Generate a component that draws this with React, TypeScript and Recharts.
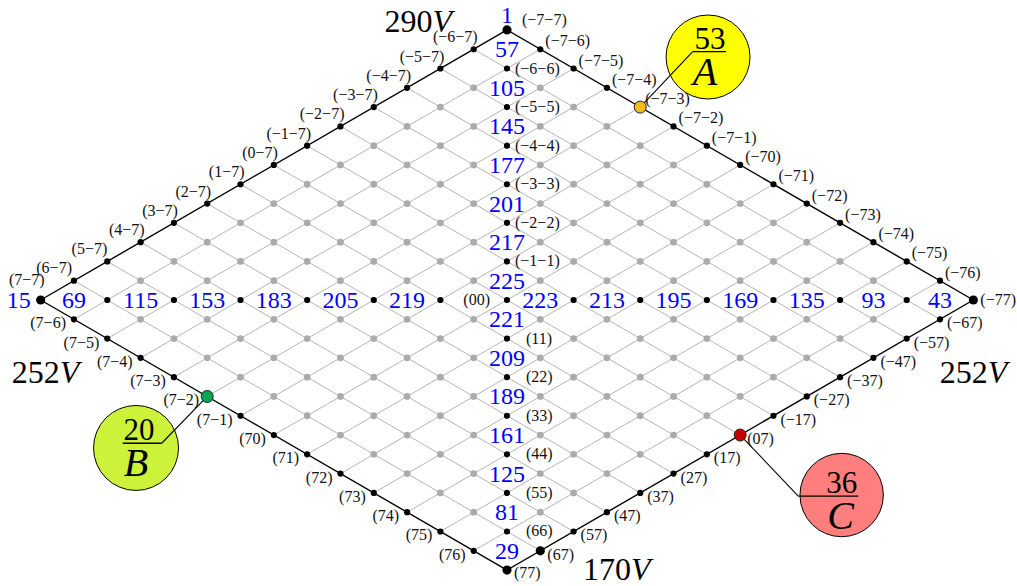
import React from "react";
import { Scatter, ScatterChart, XAxis, YAxis } from "recharts";

// lattice index along each side of the rhombus, -7 .. 7
const steps = [-7, -6, -5, -4, -3, -2, -1, 0, 1, 2, 3, 4, 5, 6, 7];

// blue cell values down the vertical diagonal, top to bottom
const verticalValues = [57, 105, 145, 177, 201, 217, 225, 221, 209, 189, 161, 125, 81, 29];
// blue cell values along the horizontal diagonal, left to right (the (00) label sits in the empty cell)
const horizontalValues = [69, 115, 153, 183, 205, 219, null, 223, 213, 195, 169, 135, 93, 43];
// values written just outside the top and left corners
const topCornerValue = 1;
const leftCornerValue = 15;

// voltages written at the four corners
const cornerVoltages = [
  { corner: "top", value: 290 },
  { corner: "left", value: 252 },
  { corner: "right", value: 252 },
  { corner: "bottom", value: 170 },
];

// highlighted lattice nodes
const callouts = [
  { i: -7, j: -3, value: 53, letter: "A" },
  { i: 7, j: -2, value: 20, letter: "B" },
  { i: 0, j: 7, value: 36, letter: "C" },
];

const W = 1017;
const H = 586;
const FONT = "'Liberation Serif', 'Times New Roman', serif";
const X_DOMAIN = [-15.221, 15.311];
const Y_DOMAIN = [-14.826, 15.552];

const toPlot = (i: number, j: number) => ({ x: j - i, y: -(i + j) });
const fmt = (n: number) => (n < 0 ? "\u2212" + Math.abs(n) : String(n));
const nodeName = (i: number, j: number) => `(${fmt(i)}${fmt(j)})`;

const cornerNode: Record<string, [number, number]> = {
  top: [-7, -7],
  left: [7, -7],
  right: [-7, 7],
  bottom: [7, 7],
};

const gridLines = steps.flatMap((k) => [
  { key: `i${k}`, border: Math.abs(k) === 7, pts: [toPlot(k, -7), toPlot(k, 7)] },
  { key: `j${k}`, border: Math.abs(k) === 7, pts: [toPlot(-7, k), toPlot(7, k)] },
]);

const lattice = steps.flatMap((i) =>
  steps.map((j) => {
    const corner = Math.abs(i) === 7 && Math.abs(j) === 7;
    const black = Math.abs(i) === 7 || Math.abs(j) === 7 || i === j || i === -j;
    return { ...toPlot(i, j), i, j, kind: corner || (i === 6 && j === 7) ? "big" : black ? "black" : "gray" };
  })
);

type LabelStyle = { anchor: "start" | "end"; dx: number; dy: number };

function labelStyle(i: number, j: number): LabelStyle | null {
  if (i === -7 && j === -7) return { anchor: "start", dx: 15, dy: -5 };
  if (i === 7 && j === -7) return { anchor: "end", dx: 4, dy: -15 };
  if (i === -7 && j === 7) return { anchor: "start", dx: 7, dy: 5 };
  if (i === 7 && j === 7) return { anchor: "start", dx: 7, dy: 8 };
  if (j === -7) {
    if (i === 6) return { anchor: "end", dx: -2, dy: -8 };
    if (i === 5) return { anchor: "end", dx: 0, dy: -7 };
    return { anchor: "end", dx: 4, dy: -7 };
  }
  if (i === -7) return { anchor: "start", dx: 5, dy: -3 };
  if (i === 7) return { anchor: "end", dx: -8, dy: 9 };
  if (j === 7) return { anchor: "start", dx: 7, dy: 9 };
  if (i === j && i === 0) return { anchor: "end", dx: -17, dy: 5 };
  if (i === j && i < 0) return { anchor: "start", dx: 8, dy: 5 };
  if (i === j) return { anchor: "start", dx: 19, dy: 5 };
  return null;
}

const nodeLabels = lattice
  .map((p) => ({ ...p, style: labelStyle(p.i, p.j), text: nodeName(p.i, p.j) }))
  .filter((p) => p.style !== null);

const blueCells = [
  ...verticalValues.map((v, k) => ({ x: 0, y: -(-13 + 2 * k), text: String(v), anchor: "middle", dx: 0, dy: 8 })),
  ...horizontalValues
    .map((v, k) => ({ x: -13 + 2 * k, y: 0, text: v === null ? "" : String(v), anchor: "middle", dx: 0, dy: 8 }))
    .filter((c) => c.text !== ""),
  { ...toPlot(-7, -7), text: String(topCornerValue), anchor: "middle", dx: 0, dy: -7 },
  { ...toPlot(7, -7), text: String(leftCornerValue), anchor: "end", dx: -10, dy: 8 },
];

const voltageStyle: Record<string, { anchor: string; dx: number; dy: number }> = {
  top: { anchor: "end", dx: -55, dy: 2 },
  left: { anchor: "start", dx: -29, dy: 83 },
  right: { anchor: "end", dx: 34, dy: 83 },
  bottom: { anchor: "start", dx: 76, dy: 10 },
};

const voltages = cornerVoltages.map((c) => ({ ...toPlot(...cornerNode[c.corner]), ...c }));

const calloutStyle: Record<string, any> = {
  A: { ox: 67.8, oy: -50.1, r: 42, bar: [-15.3, 18], barDy: -5.3, end: 0, ndx: 2, ldx: -3, fill: "#ffff00", dot: "#f6bd16" },
  B: { ox: -71.2, oy: 51.5, r: 42.5, bar: [-13.3, 25.7], barDy: -4.7, end: 1, ndx: 3, ldx: 0, fill: "#cdf23a", dot: "#00a651" },
  C: { ox: 101.5, oy: 60, r: 41.7, bar: [-43.4, 16.6], barDy: 1, end: 0, ndx: 0, ldx: -1, fill: "#ff7f7f", dot: "#c80000" },
};

const calloutPoints = callouts.map((c) => ({ ...toPlot(c.i, c.j), ...c }));

const Empty = () => <g />;

const DotShape = (props: any) => {
  const { cx, cy, payload } = props;
  if (payload.kind === "gray") return <circle cx={cx} cy={cy} r={3.4} fill="#ababab" />;
  if (payload.kind === "big") return <circle cx={cx} cy={cy} r={4.6} fill="#000" />;
  return <circle cx={cx} cy={cy} r={3.1} fill="#000" />;
};

const NodeLabel = (props: any) => {
  const { cx, cy, payload } = props;
  const s = payload.style as LabelStyle;
  return (
    <text x={cx + s.dx} y={cy + s.dy} textAnchor={s.anchor} fontSize={16} fontFamily={FONT} fill="#111">
      {payload.text}
    </text>
  );
};

const BlueLabel = (props: any) => {
  const { cx, cy, payload } = props;
  return (
    <text x={cx + payload.dx} y={cy + payload.dy} textAnchor={payload.anchor} fontSize={24} fontFamily={FONT} fill="#0000ff">
      {payload.text}
    </text>
  );
};

const VoltageLabel = (props: any) => {
  const { cx, cy, payload } = props;
  const s = voltageStyle[payload.corner];
  return (
    <text x={cx + s.dx} y={cy + s.dy} textAnchor={s.anchor} fontSize={32} fontFamily={FONT} fill="#000">
      {payload.value}
      <tspan fontStyle="italic">V</tspan>
    </text>
  );
};

const CalloutShape = (props: any) => {
  const { cx, cy, payload } = props;
  const s = calloutStyle[payload.letter];
  const ccx = cx + s.ox;
  const ccy = cy + s.oy;
  const barY = ccy + s.barDy;
  const bx1 = ccx + s.bar[0];
  const bx2 = ccx + s.bar[1];
  const joinX = s.end === 0 ? bx1 : bx2;
  return (
    <g>
      <circle cx={ccx} cy={ccy} r={s.r} fill={s.fill} stroke="#000" strokeWidth={1} />
      <line x1={cx} y1={cy} x2={joinX} y2={barY} stroke="#000" strokeWidth={1.1} />
      <line x1={bx1} y1={barY} x2={bx2} y2={barY} stroke="#000" strokeWidth={1.3} />
      <text x={ccx + s.ndx} y={barY - 3} textAnchor="middle" fontSize={31} fontFamily={FONT} fill="#000">
        {payload.value}
      </text>
      <text x={ccx + s.ldx} y={barY + 33} textAnchor="middle" fontSize={40} fontStyle="italic" fontFamily={FONT} fill="#000">
        {payload.letter}
      </text>
      <circle cx={cx} cy={cy} r={6} fill={s.dot} stroke="#222" strokeWidth={1} />
    </g>
  );
};

export default function App() {
  return (
    <div style={{ position: "absolute", left: 0, top: 0, width: W, height: H, background: "#fff" }}>
      <ScatterChart width={W} height={H} margin={{ top: 0, right: 0, bottom: 0, left: 0 }}>
        <XAxis type="number" dataKey="x" domain={X_DOMAIN} allowDataOverflow hide />
        <YAxis type="number" dataKey="y" domain={Y_DOMAIN} allowDataOverflow hide />

        {gridLines
          .filter((g) => !g.border)
          .map((g) => (
            <Scatter
              key={g.key}
              data={g.pts}
              line={{ stroke: "#b5b5b5", strokeWidth: 1 }}
              shape={Empty}
              isAnimationActive={false}
              legendType="none"
            />
          ))}
        {gridLines
          .filter((g) => g.border)
          .map((g) => (
            <Scatter
              key={g.key}
              data={g.pts}
              line={{ stroke: "#000", strokeWidth: 1.4 }}
              shape={Empty}
              isAnimationActive={false}
              legendType="none"
            />
          ))}

        <Scatter data={lattice} shape={DotShape} isAnimationActive={false} legendType="none" />
        <Scatter data={nodeLabels} shape={NodeLabel} isAnimationActive={false} legendType="none" />
        <Scatter data={blueCells} shape={BlueLabel} isAnimationActive={false} legendType="none" />
        <Scatter data={calloutPoints} shape={CalloutShape} isAnimationActive={false} legendType="none" />
        <Scatter data={voltages} shape={VoltageLabel} isAnimationActive={false} legendType="none" />
      </ScatterChart>
    </div>
  );
}
